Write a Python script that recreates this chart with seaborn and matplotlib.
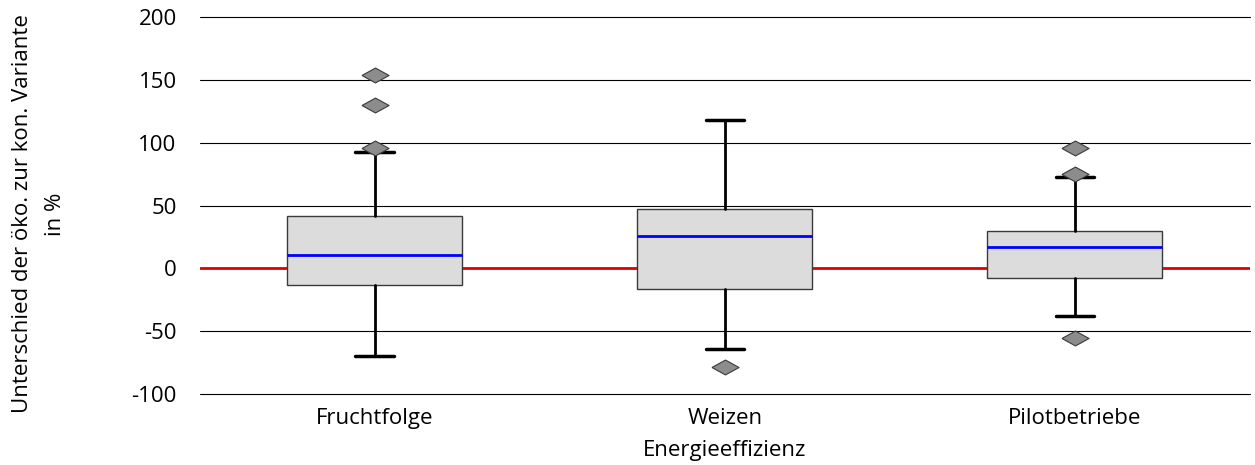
import matplotlib
matplotlib.use("Agg")
import matplotlib.pyplot as plt
import seaborn as sns

# values
categories = ["Fruchtfolge", "Weizen", "Pilotbetriebe"]
q1 = [-13.5, -16.5, -7.7]
median = [10.3, 25.7, 17.2]
q3 = [42, 47, 29.7]
whislo = [-70, -64.5, -37.6]
whishi = [93, 118.5, 73]
outliers = [[154, 130, 96], [-78.5], [95.7, 75.3, -55.7]]
yticks = [-100, -50, 0, 50, 100, 150, 200]


def main():
    sns.set_theme(style="white")
    plt.rcParams["font.family"] = ["Open Sans", "DejaVu Sans"]
    fs = 16

    fig = plt.figure(figsize=(12.55, 4.65), dpi=100)
    ax = fig.add_axes([0.159, 0.153, 0.837, 0.81])

    stats = []
    for i, name in enumerate(categories):
        stats.append({
            "label": name, "med": median[i], "q1": q1[i], "q3": q3[i],
            "whislo": whislo[i], "whishi": whishi[i], "fliers": outliers[i],
        })

    diamond = [(-1, 0), (0, 0.55), (1, 0), (0, -0.55), (-1, 0)]
    ax.bxp(
        stats, positions=range(len(categories)), widths=0.5, patch_artist=True,
        boxprops=dict(facecolor="#dcdcdc", edgecolor="#3a3a3a", linewidth=1),
        medianprops=dict(color="#0000ff", linewidth=2),
        whiskerprops=dict(color="black", linewidth=2),
        capprops=dict(color="black", linewidth=2.5),
        capwidths=0.11,
        flierprops=dict(marker=diamond, markersize=19.5, markerfacecolor="#8c8c8c",
                        markeredgecolor="#3a3a3a", markeredgewidth=0.8),
        zorder=3,
    )

    ax.axhline(0, color="#e00000", linewidth=2, zorder=2)
    for y in yticks:
        if y != 0:
            ax.axhline(y, color="black", linewidth=0.8, zorder=1, clip_on=False)

    ax.set_xlim(-0.5, len(categories) - 0.5)
    ax.set_ylim(-100, 200)
    ax.set_yticks(yticks)
    ax.set_yticklabels([str(v) for v in yticks])
    ax.set_xticks(range(len(categories)))
    ax.set_xticklabels(categories)
    ax.tick_params(axis="both", labelsize=fs, length=0, colors="black")
    ax.tick_params(axis="y", pad=16.5)
    ax.tick_params(axis="x", pad=10)
    for s in ax.spines.values():
        s.set_visible(False)

    ax.set_xlabel("Energieeffizienz", fontsize=fs, labelpad=8, color="black")
    fig.text(0.031, 0.54, "Unterschied der öko. zur kon. Variante\nin %",
             rotation=90, ha="center", va="center", fontsize=fs,
             multialignment="center", linespacing=1.7, color="black")

    fig.savefig("out.png", dpi=100)
    plt.close(fig)


if __name__ == "__main__":
    main()
